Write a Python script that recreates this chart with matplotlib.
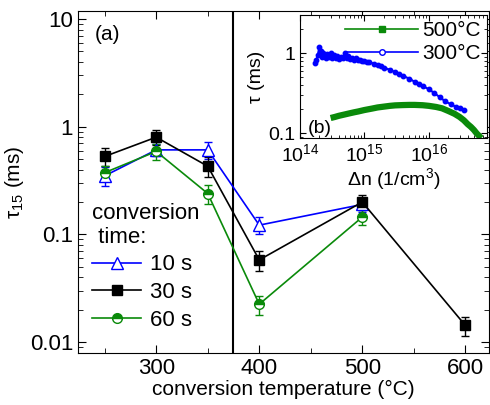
import matplotlib
matplotlib.use("Agg")
import matplotlib.pyplot as plt
from matplotlib.lines import Line2D
from matplotlib.ticker import FixedLocator, FixedFormatter, LogLocator, NullFormatter

plt.rcParams["font.family"] = ["Liberation Sans", "DejaVu Sans"]
plt.rcParams["mathtext.fontset"] = "custom"
plt.rcParams["mathtext.rm"] = "Liberation Sans"
plt.rcParams["mathtext.it"] = "Liberation Sans:italic"

# main panel (a)
TEMP_10S = [250, 300, 350, 400, 500]
TAU_10S = [0.35, 0.61, 0.61, 0.122, 0.19]
ERR_10S = [0.07, 0.08, 0.11, 0.022, 0.03]

TEMP_30S = [250, 300, 350, 400, 500, 600]
TAU_30S = [0.53, 0.80, 0.43, 0.058, 0.20, 0.0143]
ERR_30S = [0.10, 0.13, 0.09, 0.012, 0.03, 0.003]

TEMP_60S = [250, 300, 350, 400, 500]
TAU_60S = [0.375, 0.59, 0.24, 0.0225, 0.145]
ERR_60S = [0.06, 0.10, 0.05, 0.0045, 0.022]

BOUNDARY_TEMP = 375

# inset panel (b)
DN_300 = [1.7e14, 1.8e14, 1.9e14, 2.0e14, 2.1e14, 2.2e14, 2.3e14, 2.5e14,
          2.6e14, 2.8e14, 3.0e14, 3.2e14, 3.4e14, 3.6e14, 3.8e14, 4.0e14,
          4.3e14, 4.6e14, 5.0e14, 5.3e14, 5.6e14, 6.0e14, 6.5e14, 7.0e14,
          7.5e14, 8.0e14, 8.6e14, 9.2e14, 1.0e15, 1.1e15, 1.2e15, 1.4e15,
          1.6e15, 1.8e15, 2.0e15, 2.5e15, 3.0e15, 3.5e15, 4.0e15, 5.0e15,
          6.0e15, 7.0e15, 8.0e15, 1.0e16, 1.2e16, 1.5e16, 1.8e16, 2.2e16,
          2.6e16, 3.0e16, 3.5e16]
TAU_300 = [0.75, 0.82, 0.95, 1.2, 1.05, 0.90, 1.0, 0.88,
           0.97, 0.90, 1.0, 0.86, 0.95, 0.88, 0.92, 0.85,
           0.90, 0.86, 1.02, 0.88, 0.93, 0.85, 0.87, 0.83,
           0.86, 0.82, 0.83, 0.80, 0.81, 0.78, 0.77, 0.74,
           0.71, 0.69, 0.66, 0.62, 0.58, 0.55, 0.52, 0.48,
           0.44, 0.41, 0.39, 0.355, 0.32, 0.28, 0.25, 0.23,
           0.215, 0.205, 0.198]

DN_500 = [3.0e14, 3.5e14, 4.0e14, 5.0e14, 6.0e14, 7.0e14, 8.0e14, 1.0e15,
          1.3e15, 1.6e15, 2.0e15, 2.5e15, 3.0e15, 4.0e15, 5.0e15, 6.0e15,
          8.0e15, 1.0e16, 1.3e16, 1.6e16, 2.0e16, 2.5e16, 3.0e16, 3.5e16,
          4.0e16, 4.5e16, 5.0e16, 5.5e16, 6.0e16, 6.5e16]
TAU_500 = [0.155, 0.16, 0.165, 0.172, 0.178, 0.183, 0.187, 0.195,
           0.203, 0.21, 0.215, 0.22, 0.223, 0.225, 0.226, 0.226,
           0.224, 0.22, 0.213, 0.205, 0.19, 0.175, 0.16, 0.145,
           0.13, 0.12, 0.11, 0.10, 0.093, 0.087]

FS = 15
BLUE = "#0000ff"
GREEN = "#0a8a0a"

fig = plt.figure(figsize=(4.9, 4.05), dpi=100)
ax = fig.add_axes([0.159, 0.128, 0.839, 0.845])

style_10 = dict(color=BLUE, lw=1.2, marker="^", ms=8, mfc="white", mec=BLUE)
style_30 = dict(color="black", lw=1.2, marker="s", ms=6.5, mfc="black")
style_60 = dict(color=GREEN, lw=1.2, marker="o", ms=7, fillstyle="top",
                mfc=GREEN, mfcalt="white", mec=GREEN)

ax.errorbar(TEMP_10S, TAU_10S, yerr=ERR_10S, capsize=3, elinewidth=1, **style_10)
ax.errorbar(TEMP_30S, TAU_30S, yerr=ERR_30S, capsize=3, elinewidth=1, **style_30)
ax.errorbar(TEMP_60S, TAU_60S, yerr=ERR_60S, capsize=3, elinewidth=1, **style_60)
ax.axvline(BOUNDARY_TEMP, color="black", lw=1.5)

ax.set_yscale("log")
ax.set_ylim(0.0079, 11.9)
ax.set_xlim(224, 623)
ax.set_xticks([300, 400, 500, 600])
ax.set_xticks([250, 350, 450, 550], minor=True)
ax.yaxis.set_major_locator(FixedLocator([0.01, 0.1, 1, 10]))
ax.yaxis.set_major_formatter(FixedFormatter(["0.01", "0.1", "1", "10"]))
ax.yaxis.set_minor_locator(LogLocator(subs=range(2, 10)))
ax.yaxis.set_minor_formatter(NullFormatter())
ax.tick_params(which="both", direction="in", top=True, right=True, labelsize=FS + 1)
ax.tick_params(which="major", length=6)
ax.tick_params(which="minor", length=3.5)
ax.set_xlabel("conversion temperature (°C)", fontsize=FS, labelpad=1)
ax.set_ylabel("τ$_{15}$ (ms)", fontsize=FS, labelpad=3)
ax.text(0.04, 0.915, "(a)", transform=ax.transAxes, fontsize=FS)

main_handles = [Line2D([], [], **style_10), Line2D([], [], **style_30),
                Line2D([], [], **style_60)]
leg = ax.legend(main_handles, ["10 s", "30 s", "60 s"], loc="upper left",
                bbox_to_anchor=(0.035, 0.44), frameon=False,
                title="conversion\n time:", title_fontsize=FS + 1, fontsize=FS + 1,
                handlelength=2.2, handletextpad=0.4, labelspacing=0.3,
                borderaxespad=0, borderpad=0)
leg._legend_box.align = "left"

# inset
ins = fig.add_axes([0.612, 0.659, 0.382, 0.304])
ins.plot(DN_500, TAU_500, color=GREEN, lw=4.5, solid_capstyle="butt")
ins.plot(DN_300, TAU_300, color=BLUE, lw=1.5, marker="o", ms=3.2, mfc=BLUE, mec=BLUE)
ins.set_xscale("log")
ins.set_yscale("log")
ins.set_xlim(1e14, 8e16)
ins.set_ylim(0.087, 3.0)
ins.yaxis.set_major_locator(FixedLocator([0.1, 1]))
ins.yaxis.set_major_formatter(FixedFormatter(["0.1", "1"]))
ins.yaxis.set_minor_locator(LogLocator(subs=range(2, 10)))
ins.yaxis.set_minor_formatter(NullFormatter())
ins.xaxis.set_major_locator(FixedLocator([1e14, 1e15, 1e16]))
ins.xaxis.set_minor_locator(LogLocator(subs=range(2, 10)))
ins.xaxis.set_minor_formatter(NullFormatter())
ins.tick_params(which="both", direction="in", top=True, right=True, labelsize=FS - 1)
ins.tick_params(which="major", length=4)
ins.tick_params(which="minor", length=2)
ins.set_xlabel("Δn (1/cm$^3$)", fontsize=FS - 1, labelpad=1)
ins.set_ylabel("τ (ms)", fontsize=FS - 1, labelpad=2)
ins.text(0.04, 0.04, "(b)", transform=ins.transAxes, fontsize=FS - 1)

inset_handles = [
    Line2D([], [], color=GREEN, lw=1.2, marker="s", ms=4),
    Line2D([], [], color=BLUE, lw=1.2, marker="o", ms=4, mfc="white"),
]
ins.legend(inset_handles, ["500°C", "300°C"], loc="upper right", frameon=False,
           fontsize=FS, handlelength=3.5, handletextpad=0.2, labelspacing=0.2,
           borderaxespad=0.1, borderpad=0.2)

fig.savefig("out.png", dpi=100)
